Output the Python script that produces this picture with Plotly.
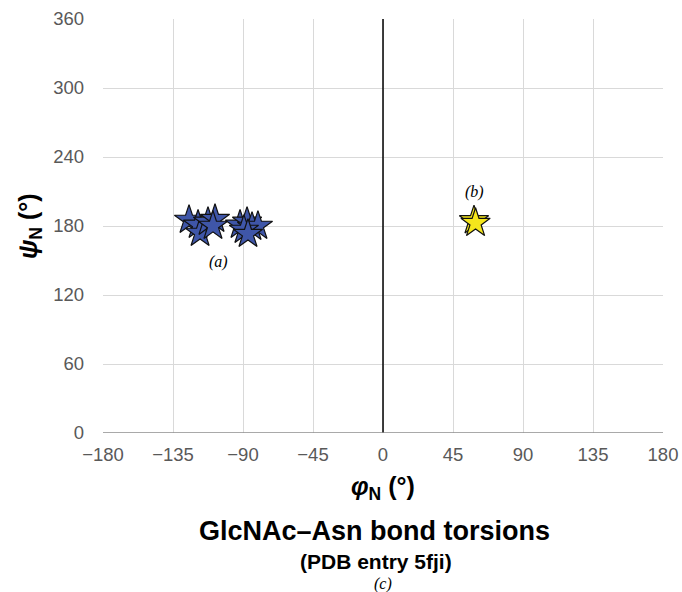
import plotly.graph_objects as go

phi_a = [-124.7, -118.9, -117.6, -112.5, -108.0, -109.3, -91.9, -87.4, -84.2, -80.4, -89.4, -86.8]
psi_a = [185.2, 180.9, 173.9, 183.5, 186.0, 180.0, 180.9, 183.5, 179.1, 180.0, 176.5, 173.0]
phi_b = [58.5, 59.5]
psi_b = [184.8, 182.5]

x_ticks = [-180, -135, -90, -45, 0, 45, 90, 135, 180]
x_labels = ["\u2212180", "\u2212135", "\u221290", "\u221245", "0", "45", "90", "135", "180"]
y_ticks = [0, 60, 120, 180, 240, 300, 360]

sans = "Liberation Sans, Arial"
serif = "Liberation Serif, Times New Roman"

fig = go.Figure()
fig.add_trace(go.Scatter(x=phi_a, y=psi_a, mode="markers",
                         marker=dict(symbol="star", size=22, color="#3f56a8",
                                     line=dict(color="#111111", width=1.2)),
                         showlegend=False))
fig.add_trace(go.Scatter(x=phi_b, y=psi_b, mode="markers",
                         marker=dict(symbol="star", size=22, color="#f5e61c",
                                     line=dict(color="#111111", width=1.2)),
                         showlegend=False))

fig.add_shape(type="line", x0=0, x1=0, y0=0, y1=360, xref="x", yref="y",
              line=dict(color="#000000", width=1.5), layer="above")
fig.add_shape(type="line", x0=-180, x1=180, y0=0, y1=0, xref="x", yref="y",
              line=dict(color="#8c8c8c", width=1.5), layer="above")

fig.update_xaxes(range=[-180, 180], tickvals=x_ticks, ticktext=x_labels,
                 showgrid=True, gridcolor="#d9d9d9", gridwidth=1.3,
                 zeroline=False, showline=False, automargin=False,
                 tickfont=dict(family=sans, size=18.5, color="#595959"),
                 ticks="", ticklabelstandoff=8)
fig.update_yaxes(range=[0, 360], tickvals=y_ticks,
                 showgrid=True, gridcolor="#d9d9d9", gridwidth=1.3,
                 zeroline=False, showline=False, automargin=False,
                 tickfont=dict(family=sans, size=18.5, color="#595959"),
                 ticks="", ticklabelstandoff=18)

# axis titles
fig.add_annotation(xref="paper", yref="paper", x=0.5, y=-0.133, yanchor="middle",
                   text="<b><i>\u03c6</i><sub>N</sub> (\u00b0)</b>", showarrow=False,
                   font=dict(family=sans, size=25, color="#000000"))
fig.add_annotation(xref="paper", yref="paper", x=-0.1304, y=0.5, xanchor="center",
                   yanchor="middle", textangle=-90,
                   text="<b><i>\u03c8</i><sub>N</sub> (\u00b0)</b>", showarrow=False,
                   font=dict(family=sans, size=25, color="#000000"))

# point labels
fig.add_annotation(x=-106, y=149, text="<i>(a)</i>", showarrow=False,
                   font=dict(family=serif, size=16, color="#000000"))
fig.add_annotation(x=58.5, y=210, text="<i>(b)</i>", showarrow=False,
                   font=dict(family=serif, size=16, color="#000000"))

# titles below
fig.add_annotation(xref="paper", yref="paper", x=0.4857, y=-0.2367, yanchor="middle",
                   text="<b>GlcNAc\u2013Asn bond torsions</b>", showarrow=False,
                   font=dict(family=sans, size=27, color="#000000"))
fig.add_annotation(xref="paper", yref="paper", x=0.4875, y=-0.3092, yanchor="middle",
                   text="<b>(PDB entry 5fji)</b>", showarrow=False,
                   font=dict(family=sans, size=21, color="#000000"))
fig.add_annotation(xref="paper", yref="paper", x=0.5, y=-0.3647, yanchor="middle",
                   text="<i>(c)</i>", showarrow=False,
                   font=dict(family=serif, size=16, color="#000000"))

fig.update_layout(width=682, height=592,
                  margin=dict(l=103, r=19, t=19, b=159),
                  plot_bgcolor="#ffffff", paper_bgcolor="#ffffff")

fig.write_html("out.html", config={"displayModeBar": False},
               post_script="document.body.style.margin='0';document.body.style.overflow='hidden';")
